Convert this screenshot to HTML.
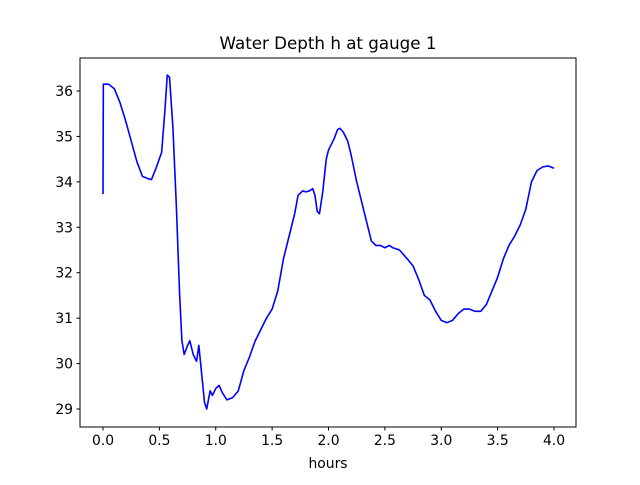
<!DOCTYPE html>
<html><head><meta charset="utf-8"><style>
body{margin:0;background:#fff}
svg text{font-family:"DejaVu Sans","Liberation Sans",sans-serif;fill:#000}
</style></head><body>
<svg width="640" height="480" xmlns="http://www.w3.org/2000/svg">
<rect width="640" height="480" fill="#fff"/>
<text x="328" y="49" font-size="16.7" text-anchor="middle">Water Depth h at gauge 1</text>
<g id="plot"></g>
<rect x="80" y="58" width="496" height="369" fill="none" stroke="#000" stroke-width="1"/>
<text x="328" y="468" font-size="13.9" text-anchor="middle">hours</text>
</svg>
<script>
const xs=[0,0.003,0.05,0.1,0.15,0.2,0.25,0.3,0.35,0.4,0.43,0.47,0.52,0.55,0.57,0.59,0.62,0.65,0.68,0.7,0.72,0.75,0.77,0.8,0.83,0.85,0.87,0.9,0.92,0.95,0.97,1.0,1.03,1.06,1.1,1.15,1.2,1.25,1.3,1.35,1.4,1.45,1.5,1.55,1.6,1.65,1.7,1.73,1.77,1.8,1.83,1.86,1.88,1.9,1.92,1.95,1.98,2.0,2.05,2.08,2.1,2.13,2.17,2.2,2.25,2.3,2.35,2.38,2.42,2.46,2.5,2.54,2.57,2.63,2.7,2.75,2.8,2.85,2.9,2.95,3.0,3.05,3.1,3.15,3.2,3.25,3.3,3.35,3.4,3.45,3.5,3.55,3.6,3.65,3.7,3.75,3.8,3.85,3.9,3.95,4.0];
const ys=[33.73,36.15,36.15,36.05,35.75,35.35,34.9,34.45,34.12,34.07,34.05,34.3,34.65,35.6,36.35,36.3,35.2,33.5,31.5,30.5,30.2,30.4,30.5,30.2,30.05,30.4,29.9,29.15,29.0,29.4,29.3,29.45,29.52,29.35,29.2,29.25,29.4,29.85,30.15,30.5,30.75,31.0,31.2,31.6,32.3,32.8,33.3,33.7,33.8,33.78,33.8,33.85,33.7,33.35,33.3,33.8,34.5,34.7,34.95,35.15,35.18,35.1,34.9,34.6,34.0,33.5,33.0,32.7,32.6,32.6,32.55,32.6,32.55,32.5,32.3,32.15,31.85,31.5,31.4,31.15,30.95,30.9,30.95,31.1,31.2,31.2,31.15,31.15,31.3,31.6,31.9,32.3,32.6,32.8,33.05,33.4,34.0,34.25,34.33,34.35,34.3];
const xTicks=[0,0.5,1,1.5,2,2.5,3,3.5,4];
const xTickLabels=["0.0","0.5","1.0","1.5","2.0","2.5","3.0","3.5","4.0"];
const yTicks=[29,30,31,32,33,34,35,36];
const yTickLabels=["29","30","31","32","33","34","35","36"];
const NS="http://www.w3.org/2000/svg";
const X=v=>103+v*112.75, Y=v=>91+(36-v)*45.43;
const g=document.getElementById('plot');
function mk(t,a){const e=document.createElementNS(NS,t);for(const k in a)e.setAttribute(k,a[k]);g.appendChild(e);return e;}
xTicks.forEach((t,i)=>{
 const l=mk('line',{x1:X(t),x2:X(t),y1:427,y2:430.5,stroke:'#000'});
 
 
 const tx=mk('text',{x:X(t),y:445,'font-size':'13.9','text-anchor':'middle'});
 tx.textContent=xTickLabels[i];
 
 
});
yTicks.forEach((t,i)=>{
 const l=mk('line',{x1:76.5,x2:80,y1:Y(t),y2:Y(t),stroke:'#000'});
 
 
 const tx=mk('text',{x:73,y:Y(t)+5,'font-size':'13.9','text-anchor':'end'});
 tx.textContent=yTickLabels[i];
 
 
});
const p=mk('polyline',{points:xs.map((x,i)=>X(x)+','+Y(ys[i])).join(' '),fill:'none',stroke:'#0000ff','stroke-width':'1.6','stroke-linejoin':'round'});


</script>
</body></html>
